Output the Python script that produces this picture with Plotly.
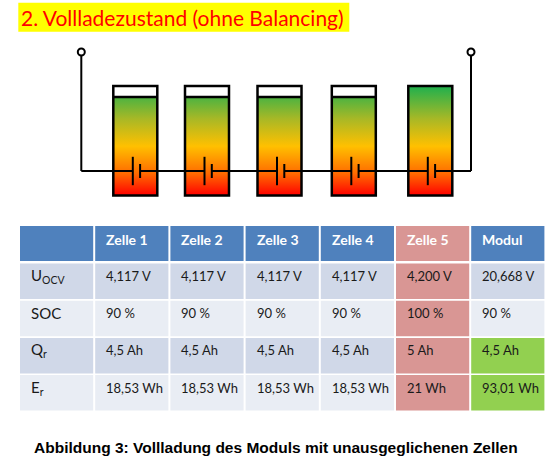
import plotly.graph_objects as go

# ---- data ----
title_text = "2. Vollladezustand (ohne Balancing)"
caption_text = "Abbildung 3: Vollladung des Moduls mit unausgeglichenen Zellen"

cell_names = ["Zelle 1", "Zelle 2", "Zelle 3", "Zelle 4", "Zelle 5"]
col_headers = ["", "Zelle 1", "Zelle 2", "Zelle 3", "Zelle 4", "Zelle 5", "Modul"]
row_labels = ["U<sub>OCV</sub>", "SOC", "Q<sub>r</sub>", "E<sub>r</sub>"]

u_ocv = [4.117, 4.117, 4.117, 4.117, 4.200, 20.668]   # V
soc = [90, 90, 90, 90, 100, 90]                        # %
q_r = [4.5, 4.5, 4.5, 4.5, 5, 4.5]                     # Ah
e_r = [18.53, 18.53, 18.53, 18.53, 21, 93.01]          # Wh


def de(v, fmt):
    return format(v, fmt).replace(".", ",")


table_rows = [
    [de(v, ".3f") + " V" for v in u_ocv],
    [f"{v} %" for v in soc],
    [de(v, "g") + " Ah" for v in q_r],
    [de(v, "g") + " Wh" for v in e_r],
]

# ---- styling / layout ----
BLUE = "#4f81bd"
ROW_A = "#d0d8e8"
ROW_B = "#e9edf4"
RED = "#d99694"
GREEN = "#92d050"
txt_font = "Lato"

cell_x = [135.3, 207, 279.5, 353.8, 430.3]   # battery cell centres
cell_w = 44
cell_top, cell_bot = 86, 195.5
wire_y = 171
term_left, term_right, term_y = 81.3, 471, 52

tab_x0, col_w, gap = 20, 75.2, 2
head_top, head_h = 226, 35
row_top0, row_pitch, row_h = 263.5, 37.2, 35.5

grad = [[0, "#ff0000"], [0.2, "#ff6a00"], [0.45, "#ffc000"],
        [0.7, "#a8b826"], [1, "#1eb04e"]]

fig = go.Figure()
shapes = []
ann = []

# title
shapes.append(dict(type="rect", x0=18.3, x1=349.3, y0=2.7, y1=31.7,
                   fillcolor="#ffff00", line_width=0, layer="below"))
ann.append(dict(x=19, y=17.5, text=title_text, xanchor="left", yanchor="middle",
                showarrow=False, font=dict(family=txt_font, size=21, color="#ff0000")))

# battery cells: gradient fill up to SOC level
for i, name in enumerate(cell_names):
    l, r = cell_x[i] - cell_w / 2, cell_x[i] + cell_w / 2
    level = cell_bot - soc[i] / 100 * (cell_bot - cell_top)
    fig.add_trace(go.Scatter(
        x=[l, r, r, l, l], y=[cell_bot, cell_bot, level, level, cell_bot],
        mode="none", fill="toself", name=name, hoverinfo="name",
        fillgradient=dict(type="vertical", colorscale=grad,
                          start=cell_bot, stop=cell_top)))
    shapes.append(dict(type="rect", x0=l, x1=r, y0=cell_top, y1=cell_bot,
                       line=dict(color="black", width=2.5)))
    if soc[i] < 100:
        shapes.append(dict(type="line", x0=l, x1=r, y0=level, y1=level,
                           line=dict(color="black", width=2.5)))
    # battery symbol
    lp, sp = cell_x[i] - 2.5, cell_x[i] + 4.8
    shapes.append(dict(type="line", x0=lp, x1=lp, y0=wire_y - 14.2, y1=wire_y + 14.2,
                       line=dict(color="black", width=2)))
    shapes.append(dict(type="line", x0=sp, x1=sp, y0=wire_y - 7, y1=wire_y + 7,
                       line=dict(color="black", width=2)))

# wires
pts = [term_left]
for c in cell_x:
    pts += [c - 2.5, c + 4.8]
pts.append(term_right)
for a, b in zip(pts[0::2], pts[1::2]):
    shapes.append(dict(type="line", x0=a, x1=b, y0=wire_y, y1=wire_y,
                       line=dict(color="black", width=2)))
for tx in (term_left, term_right):
    shapes.append(dict(type="line", x0=tx, x1=tx, y0=term_y + 3.5, y1=wire_y,
                       line=dict(color="black", width=2)))
    shapes.append(dict(type="circle", x0=tx - 3.5, x1=tx + 3.5, y0=term_y - 3.5,
                       y1=term_y + 3.5, fillcolor="white",
                       line=dict(color="black", width=2)))

# table
for j, h in enumerate(col_headers):
    x0 = tab_x0 + j * col_w
    shapes.append(dict(type="rect", x0=x0, x1=x0 + col_w - gap, y0=head_top,
                       y1=head_top + head_h, line_width=0,
                       fillcolor=RED if h == "Zelle 5" else BLUE, layer="below"))
    if h:
        ann.append(dict(x=x0 + 9, y=head_top + 13.5, text=f"<b>{h}</b>",
                        xanchor="left", yanchor="middle", showarrow=False,
                        font=dict(family=txt_font, size=14, color="white")))

for i, lab in enumerate(row_labels):
    y0 = row_top0 + i * row_pitch
    base = ROW_A if i % 2 == 0 else ROW_B
    cells = [lab] + table_rows[i]
    for j, t in enumerate(cells):
        x0 = tab_x0 + j * col_w
        fc = base
        if col_headers[j] == "Zelle 5":
            fc = RED
        elif col_headers[j] == "Modul" and i >= 2:
            fc = GREEN
        shapes.append(dict(type="rect", x0=x0, x1=x0 + col_w - gap, y0=y0,
                           y1=y0 + row_h, line_width=0, fillcolor=fc, layer="below"))
        ann.append(dict(x=x0 + 9, y=y0 + 12.5, text=t, xanchor="left",
                        yanchor="middle", showarrow=False,
                        font=dict(family=txt_font, size=15 if j == 0 else 13,
                                  color="#1a1a1a")))

# caption
ann.append(dict(x=276, y=447, text=f"<b>{caption_text}</b>", showarrow=False,
                xanchor="center", yanchor="middle",
                font=dict(family="Liberation Sans", size=15.5, color="black")))

fig.update_layout(
    width=557, height=460, margin=dict(l=0, r=0, t=0, b=0),
    paper_bgcolor="white", plot_bgcolor="white", showlegend=False,
    shapes=shapes, annotations=ann,
    xaxis=dict(range=[0, 557], visible=False, fixedrange=True),
    yaxis=dict(range=[460, 0], visible=False, fixedrange=True),
)

# drop the default 8px page margin so the figure fills the window
fig.write_html("out.html", config={"displayModeBar": False},
               post_script="document.body.style.margin='0';")
